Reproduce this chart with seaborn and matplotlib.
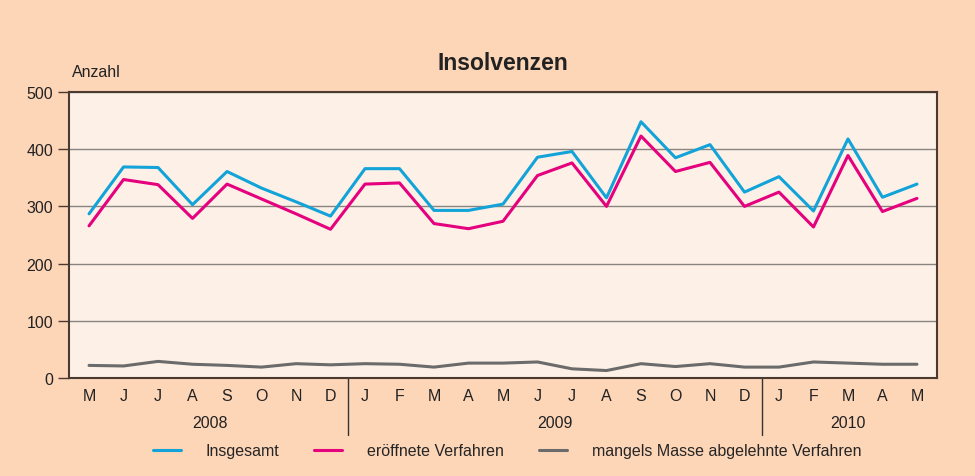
import seaborn as sns
import matplotlib.pyplot as plt
import pandas as pd
import numpy as np

# Data (May 2008 - May 2010)
months = ["M", "J", "J", "A", "S", "O", "N", "D",
          "J", "F", "M", "A", "M", "J", "J", "A", "S", "O", "N", "D",
          "J", "F", "M", "A", "M"]
years = ["2008", "2009", "2010"]
insgesamt = [287, 369, 368, 303, 361, 332, 308, 283,
             366, 366, 293, 293, 304, 386, 396, 315, 448, 385, 408, 325,
             352, 292, 418, 316, 339]
eroeffnet = [266, 347, 338, 279, 339, 313, 287, 260,
             339, 341, 270, 261, 274, 354, 376, 300, 423, 361, 377, 300,
             325, 264, 389, 291, 314]
mangels = [22, 21, 29, 24, 22, 19, 25, 23,
           25, 24, 19, 26, 26, 28, 16, 13, 25, 20, 25, 19,
           19, 28, 26, 24, 24]

names = ["Insgesamt", "eröffnete Verfahren", "mangels Masse abgelehnte Verfahren"]
colors = ["#12a3d8", "#e5007d", "#6b6b6b"]

df = pd.DataFrame({
    "idx": np.tile(np.arange(len(months)), 3),
    "wert": insgesamt + eroeffnet + mangels,
    "serie": np.repeat(names, len(months)),
})

# Plot configuration
sns.set_style("white")
plt.rcParams["font.family"] = ["Liberation Sans", "DejaVu Sans"]

outer_bg = "#fdd5b7"
inner_bg = "#fdf1e7"
dark = "#4a3a30"

fig = plt.figure(figsize=(9.75, 4.77), dpi=100)
fig.patch.set_facecolor(outer_bg)
ax = fig.add_axes([0.0708, 0.2055, 0.8902, 0.5995])
ax.set_facecolor(inner_bg)

sns.lineplot(data=df, x="idx", y="wert", hue="serie", palette=colors,
             linewidth=2.2, ax=ax, legend=True)

ax.set_xlim(-0.58, 24.58)
ax.set_ylim(0, 500)
ax.set_yticks([0, 100, 200, 300, 400, 500])
ax.yaxis.grid(True, color="#8a8480", linewidth=1.0)
ax.set_axisbelow(True)
ax.set_xticks(range(len(months)))
ax.set_xticklabels(months)
ax.tick_params(axis="x", length=0, pad=7, labelsize=11.5, colors="#222222")
ax.tick_params(axis="y", length=8, width=1.0, color=dark, labelsize=11.5,
               labelcolor="#222222", left=True)
ax.set_xlabel("")
ax.set_ylabel("")
for s in ax.spines.values():
    s.set_color(dark)
    s.set_linewidth(1.5)

# year labels and separators
for pos, yr in zip([3.5, 13.5, 22.0], years):
    ax.text(pos, -0.155, yr, transform=ax.get_xaxis_transform(),
            ha="center", va="center", fontsize=11.5, color="#222222")
for sep in [7.5, 19.5]:
    ax.plot([sep, sep], [0, -0.2], transform=ax.get_xaxis_transform(),
            color="#333333", linewidth=1.0, clip_on=False)

ax.text(-0.5, 1.07, "Anzahl", transform=ax.get_xaxis_transform(),
        fontsize=11.5, color="#222222", ha="left", va="center")
fig.text(0.516, 0.866, "Insolvenzen", fontsize=16.5, fontweight="bold",
         color="#222222", ha="center", va="center")

handles, labels = ax.get_legend_handles_labels()
ax.legend(handles, labels, loc="center", bbox_to_anchor=(0.52, 0.053),
          bbox_transform=fig.transFigure, ncol=3, frameon=False,
          fontsize=11.5, handlelength=1.75, handletextpad=1.55,
          columnspacing=2.2)

plt.savefig("out.png", dpi=100, facecolor=outer_bg)
